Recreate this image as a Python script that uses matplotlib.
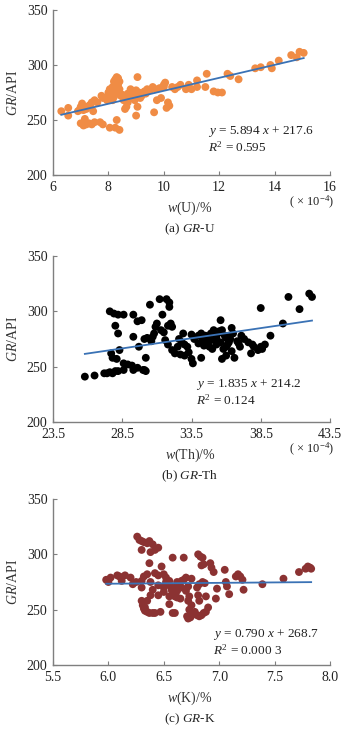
import matplotlib
matplotlib.use("Agg")
from matplotlib import pyplot as plt
import numpy as np

plt.rcParams['font.family'] = ['Liberation Serif', 'DejaVu Serif']
plt.rcParams['mathtext.fontset'] = 'custom'
plt.rcParams['mathtext.rm'] = 'Liberation Serif'
plt.rcParams['mathtext.it'] = 'Liberation Serif:italic'

# (a) GR-U
u_x = [6.3, 6.55, 6.55, 6.9, 7.0, 7.05, 7.0, 7.1, 7.15, 7.2, 7.3, 7.4, 7.5, 7.7, 7.8,
       7.2, 7.3, 7.4, 7.5, 7.45, 7.75, 7.9, 8.0, 8.05, 8.1, 8.15, 8.2, 8.25, 8.3, 8.35,
       8.4, 8.4, 8.3, 8.2, 8.5, 8.6, 8.6, 8.65, 8.8, 8.9, 8.95, 9.0, 9.0, 9.05, 9.05,
       9.2, 9.3, 9.4, 9.6, 9.7, 9.65, 9.75, 9.9, 10.0, 10.05, 10.1, 10.2, 10.15, 10.5,
       10.6, 10.8, 10.9, 11.0, 11.2, 11.2, 11.55, 11.5, 11.8, 11.95, 12.1, 12.3, 12.4,
       12.7, 13.3, 13.5, 13.9, 13.85, 14.15, 14.6, 14.8, 14.9, 15.05, 8.05, 8.25, 8.3,
       8.4, 7.8, 7.1, 7.25, 7.6, 7.95, 8.1, 8.0, 8.45, 8.55, 8.7, 8.75, 8.85, 9.1, 9.15,
       9.35, 9.5, 9.85, 10.3, 7.05, 6.95, 7.35, 8.15, 8.35, 8.7, 8.9, 9.0, 10.0, 10.4]
u_y = [258, 261, 254, 258, 262, 265, 247, 245, 251, 246, 247, 246, 248, 248, 246,
       260, 263, 266, 268, 258, 272, 270, 275, 278, 272, 268, 285, 287, 289, 288,
       285, 278, 275, 271, 273, 270, 260, 262, 278, 276, 268, 272, 254, 262, 289,
       272, 276, 278, 280, 278, 257, 268, 270, 282, 284, 261, 263, 266, 280,
       282, 278, 282, 278, 286, 280, 292, 280, 276, 275, 275, 292, 290,
       287, 297, 298, 297, 300, 304, 309, 307, 312, 311, 243, 243, 250,
       241, 270, 259, 262, 266, 268, 276, 270, 272, 268, 274, 272, 270, 275, 270,
       274, 277, 279, 280, 260, 259, 264, 280, 282, 266, 274, 277, 280, 278]
u_eq = (5.894, 217.6, "0.595")

# (b) GR-Th
th_x = [25.8, 26.5, 27.2, 27.4, 27.6, 27.8, 28.0, 28.2, 28.6, 29.3, 29.6, 29.2, 28.6, 28.9,
        30.0, 30.1, 30.2, 27.6, 27.9, 28.2, 28.6, 29.3, 29.6, 29.9, 29.3, 29.7, 28.0, 28.2,
        28.3, 27.7, 27.8, 28.1, 30.1, 30.3, 30.6, 30.7, 30.8, 30.5, 31.2, 31.7, 31.9, 31.9,
        31.4, 30.2, 30.9, 31.0, 31.3, 31.5, 31.8, 32.0, 32.1, 31.6, 31.8, 32.1, 32.3, 32.5,
        32.8, 32.7, 33.0, 33.3, 33.5, 33.6, 33.7, 33.5, 34.0, 34.3, 34.6, 34.2, 34.8, 35.0,
        35.2, 35.4, 35.5, 35.6, 35.7, 35.9, 36.0, 36.2, 36.1, 36.4, 36.0, 35.7, 36.6, 36.9,
        37.1, 37.3, 37.6, 37.9, 38.0, 37.8, 38.3, 38.5, 38.6, 38.8, 38.5, 39.2, 40.1, 40.5,
        41.3, 42.0, 42.2, 34.4, 34.7, 34.9, 35.1, 35.3, 35.8, 36.3, 36.5, 36.4, 36.2, 36.0,
        35.6, 35.3, 34.9, 33.0, 32.6, 32.9, 33.2, 34.0, 34.2, 34.5, 36.8, 37.0]
th_y = [241, 242, 244, 244, 245, 244, 246, 246, 247, 247, 249, 251, 253, 252,
        247, 247, 246, 300, 298, 297, 297, 297, 291, 292, 277, 268, 287, 280,
        265, 262, 258, 257, 275, 276, 273, 277, 280, 306, 311, 311, 308, 304,
        297, 258, 286, 289, 283, 281, 287, 289, 286, 274, 270, 265, 262, 268,
        272, 261, 260, 263, 257, 253, 275, 279, 278, 275, 270, 258, 268, 266,
        274, 280, 282, 292, 283, 278, 276, 272, 270, 264, 260, 257, 258, 271,
        278, 275, 272, 270, 268, 262, 265, 268, 266, 270, 303, 278, 289, 313,
        302, 316, 313, 269, 276, 280, 283, 270, 266, 275, 280, 285, 278, 268,
        272, 276, 274, 270, 275, 280, 268, 271, 280, 278, 273, 268]
th_eq = (1.835, 214.2, "0.124")

# (c) GR-K
k_x = [5.98, 6.0, 6.02, 6.08, 6.1, 6.12, 6.15, 6.2, 6.25, 6.22, 6.3, 6.32, 6.35, 6.38, 6.3,
       6.26, 6.28, 6.3, 6.32, 6.35, 6.37, 6.4, 6.3, 6.38, 6.42, 6.45,
       6.37, 6.42, 6.45, 6.48, 6.5, 6.52, 6.55, 6.45, 6.4, 6.38, 6.35,
       6.3, 6.31, 6.32, 6.33, 6.35, 6.37, 6.4, 6.42, 6.33, 6.47,
       6.5, 6.52, 6.55, 6.57, 6.58, 6.6, 6.62, 6.65, 6.58, 6.62, 6.64, 6.66, 6.68, 6.7,
       6.72, 6.7, 6.73, 6.6, 6.68, 6.75, 6.75, 6.72, 6.73, 6.71, 6.72, 6.74, 6.76, 6.78,
       6.8, 6.82, 6.84, 6.86, 6.88, 6.9, 6.82, 6.81, 6.8, 6.82, 6.85, 6.87, 6.81, 6.83,
       6.85, 6.84, 6.86, 6.88, 6.92, 6.93, 6.95, 6.97, 6.98, 7.05, 7.06, 7.07, 7.09, 7.15,
       7.17, 7.19, 7.21, 7.22, 7.39, 7.58, 7.72, 7.78, 7.80, 7.82, 7.83, 6.45, 6.5, 6.55,
       6.6, 6.62, 6.66, 6.55, 6.58]
k_y = [277, 275, 279, 281, 280, 276, 281, 279, 275, 273, 276, 280, 282, 275, 270,
       316, 313, 312, 311, 310, 312, 309, 304, 302, 304, 306,
       292, 283, 281, 289, 282, 279, 276, 272, 268, 263, 258,
       258, 254, 251, 249, 248, 247, 247, 247, 252, 248,
       270, 275, 272, 268, 264, 262, 261, 260, 297, 275, 272, 270, 277, 279,
       271, 267, 262, 247, 297, 278, 254, 258, 250, 244, 242, 243, 246, 248,
       245, 244, 245, 247, 248, 252, 258, 263, 270, 273, 275, 274, 300, 298,
       297, 290, 291, 262, 292, 288, 284, 260, 269, 286, 275, 271, 264, 280,
       282, 280, 277, 268, 273, 278, 284, 287, 289, 288, 287, 263, 266, 262,
       270, 267, 276, 255, 247]
k_eq = (0.790, 268.7, "0.000 3")

W, H = 355, 733
fig = plt.figure(figsize=(W / 100, H / 100), dpi=100)

def fx(px):
    return px / W

def fy(py):
    return 1 - py / H

panels = [
    dict(x=u_x, y=u_y, eq=u_eq, color="#F08C45", top=10, bot=175,
         xlim=(6, 16), xticks=[6, 8, 10, 12, 14, 16], xfmt="{:g}",
         xlabel="$w$(U)/%", cap="(a) $GR$-U", scale=True, eqpos=(11.6, 237, 221)),
    dict(x=th_x, y=th_y, eq=th_eq, color="#000000", top=256, bot=422,
         xlim=(23.5, 43.5), xticks=[23.5, 28.5, 33.5, 38.5, 43.5], xfmt="{:.1f}",
         xlabel="$w$(Th)/%", cap="(b) $GR$-Th", scale=True, eqpos=(33.8, 232, 216)),
    dict(x=k_x, y=k_y, eq=k_eq, color="#8B3232", top=499, bot=665,
         xlim=(5.5, 8.0), xticks=[5.5, 6.0, 6.5, 7.0, 7.5, 8.0], xfmt="{:.1f}",
         xlabel="$w$(K)/%", cap="(c) $GR$-K", scale=False, eqpos=(6.94, 225, 209)),
]

for p in panels:
    ax = fig.add_axes([fx(53), fy(p["bot"]), fx(330) - fx(53), (p["bot"] - p["top"]) / H])
    ax.scatter(p["x"], p["y"], s=32, color=p["color"], edgecolors="none", zorder=2)
    a, b, r2 = p["eq"]
    lx = np.array([min(p["x"]), max(p["x"])])
    ax.plot(lx, a * lx + b, color="#3A72B5", lw=1.3, zorder=3)
    ax.set_xlim(*p["xlim"])
    ax.set_ylim(200, 350)
    ax.set_xticks(p["xticks"])
    ax.set_xticklabels([p["xfmt"].format(v) for v in p["xticks"]])
    ax.set_yticks([200, 250, 300, 350])
    for s in ["top", "right"]:
        ax.spines[s].set_visible(False)
    for s in ["left", "bottom"]:
        ax.spines[s].set_color("#7f7f7f")
        ax.spines[s].set_linewidth(1.0)
    ax.tick_params(direction="in", length=3, color="#7f7f7f", labelsize=10,
                   labelcolor="#222222")
    ax.tick_params(axis="x", pad=4)
    ax.tick_params(axis="y", pad=4)
    ax.set_ylabel("$GR$/API", fontsize=10, color="#333333", labelpad=5)
    ex, ey1, ey2 = p["eqpos"]
    ax.text(ex, ey1, "$y$ = %.3f $x$ + %.1f" % (a, b), fontsize=9.5, color="#222222")
    ax.text(ex, ey2, "$R^2$ = " + r2, fontsize=9.5, color="#222222")
    fig.text(fx(190), fy(p["bot"] + 33), p["xlabel"], ha="center", va="center",
             fontsize=10, color="#333333")
    fig.text(fx(190), fy(p["bot"] + 54), p["cap"], ha="center", va="center",
             fontsize=9.5, color="#222222")
    if p["scale"]:
        fig.text(fx(312), fy(p["bot"] + 27), "( × 10$^{-4}$)", ha="center", va="center",
                 fontsize=9, color="#222222")

fig.savefig("out.png", dpi=100)
